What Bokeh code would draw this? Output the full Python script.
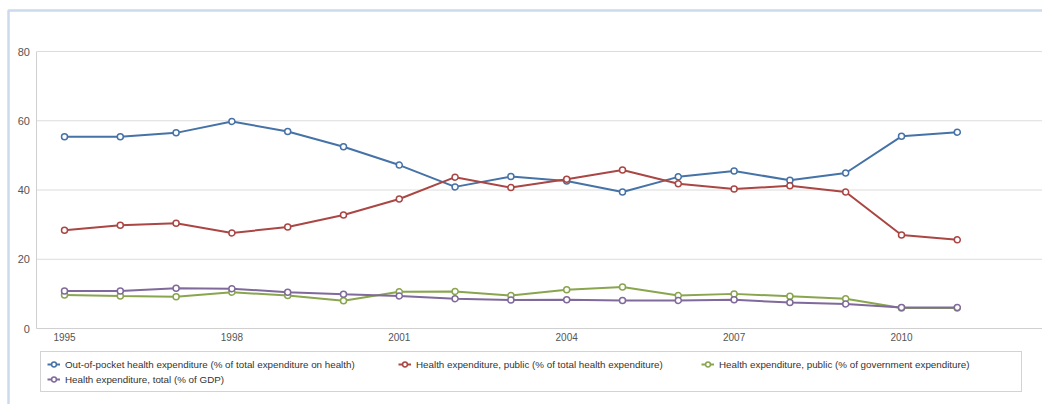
from bokeh.plotting import figure
from bokeh.models import Legend, LegendItem, FixedTicker, Range1d, BoxAnnotation
from bokeh.embed import file_html
from bokeh.resources import INLINE

# ---------------- data ----------------
years = list(range(1995, 2012))
out_of_pocket = [55.4, 55.4, 56.5, 59.8, 56.9, 52.5, 47.2, 40.9, 43.9, 42.6, 39.4, 43.8, 45.5, 42.8, 44.9, 55.5, 56.7]
public_total = [28.4, 29.8, 30.4, 27.6, 29.3, 32.8, 37.4, 43.7, 40.7, 43.1, 45.8, 41.8, 40.3, 41.2, 39.4, 27.0, 25.6]
public_gov = [9.7, 9.4, 9.2, 10.5, 9.5, 8.0, 10.6, 10.7, 9.5, 11.2, 12.0, 9.5, 10.0, 9.3, 8.6, 5.9, 5.9]
total_gdp = [10.8, 10.8, 11.6, 11.5, 10.5, 9.9, 9.4, 8.6, 8.2, 8.3, 8.1, 8.1, 8.3, 7.5, 7.1, 6.1, 6.1]

series_names = [
    "Out-of-pocket health expenditure (% of total expenditure on health)",
    "Health expenditure, public (% of total health expenditure)",
    "Health expenditure, public (% of government expenditure)",
    "Health expenditure, total (% of GDP)",
]
series_values = [out_of_pocket, public_total, public_gov, total_gdp]
series_colors = ["#4572A7", "#AA4643", "#89A54E", "#80699B"]
x_ticks = [1995, 1998, 2001, 2004, 2007, 2010]
y_ticks = [0, 20, 40, 60, 80]

# ---------------- layout (pixels) ----------------
W, H = 1042, 404
PX_YEAR = 55.8            # pixels per year
X_1995 = 64.0             # canvas x of 1995
PX_UNIT = 277.0 / 80.0    # pixels per y unit
Y_80 = 51.0               # canvas y of value 80
PLOT_LEFT = 36.4          # canvas x of the plot-area left edge

x_start = 1995 - X_1995 / PX_YEAR
x_end = x_start + W / PX_YEAR
y_top = 80 + Y_80 / PX_UNIT
y_bottom = y_top - H / PX_UNIT
plot_left = x_start + PLOT_LEFT / PX_YEAR

FONT = "Liberation Sans"

p = figure(width=W, height=H, output_backend="svg", toolbar_location=None,
           x_range=Range1d(x_start, x_end), y_range=Range1d(y_bottom, y_top),
           min_border=0)
p.outline_line_color = None
p.background_fill_color = "white"
p.border_fill_color = "white"
p.grid.visible = False

# outer blue frame of the page element
p.add_layout(BoxAnnotation(left=x_start + 8 / PX_YEAR, right=x_end + 5,
                           top=y_top - 10 / PX_UNIT, bottom=y_bottom - 20,
                           fill_alpha=0, line_color="#5585c5", line_width=2.5))

# horizontal grid lines limited to the plot area
p.segment(x0=[plot_left] * len(y_ticks), x1=[x_end + 1] * len(y_ticks),
          y0=y_ticks, y1=y_ticks, line_color="#dcdcdc", line_width=1)

xa = p.xaxis[0]
ya = p.yaxis[0]
xa.fixed_location = 0
ya.fixed_location = plot_left
xa.bounds = (plot_left, x_end + 1)
ya.bounds = (0, 80)
xa.ticker = FixedTicker(ticks=x_ticks)
ya.ticker = FixedTicker(ticks=y_ticks)
for ax in (xa, ya):
    ax.axis_line_color = "#d0d0d0"
    ax.major_tick_line_color = None
    ax.minor_tick_line_color = None
    ax.major_tick_out = 0
    ax.major_tick_in = 0
    ax.minor_tick_out = 0
    ax.minor_tick_in = 0
    ax.major_label_text_font = FONT
    ax.major_label_text_color = "#555555"
xa.major_label_text_font_size = "10px"
ya.major_label_text_font_size = "11px"
xa.major_label_standoff = 4
ya.major_label_standoff = 7

items = []
for name, vals, col in zip(series_names, series_values, series_colors):
    ln = p.line(years, vals, line_color=col, line_width=2)
    sc = p.scatter(years, vals, size=6, marker="circle", fill_color="white",
                   line_color=col, line_width=1.5)
    items.append(LegendItem(label=name, renderers=[ln, sc]))

common = dict(glyph_width=13, glyph_height=12, label_height=12, label_standoff=5,
              padding=6, spacing=3, label_text_font=FONT, label_text_font_size="9.8px",
              label_text_color="#333333", margin=0)

legA = Legend(items=[items[0], items[3]], location=(40, 12), label_width=950,
              border_line_color="#a8a8a8", border_line_width=1,
              background_fill_color="white", **common)
legB = Legend(items=[items[1]], location=(398, 34), border_line_color=None,
              background_fill_alpha=0, **common)
legC = Legend(items=[items[2]], location=(701, 34), border_line_color=None,
              background_fill_alpha=0, **common)
p.add_layout(legA)
p.add_layout(legB)
p.add_layout(legC)

open("out.html", "w").write(file_html(p, INLINE))
